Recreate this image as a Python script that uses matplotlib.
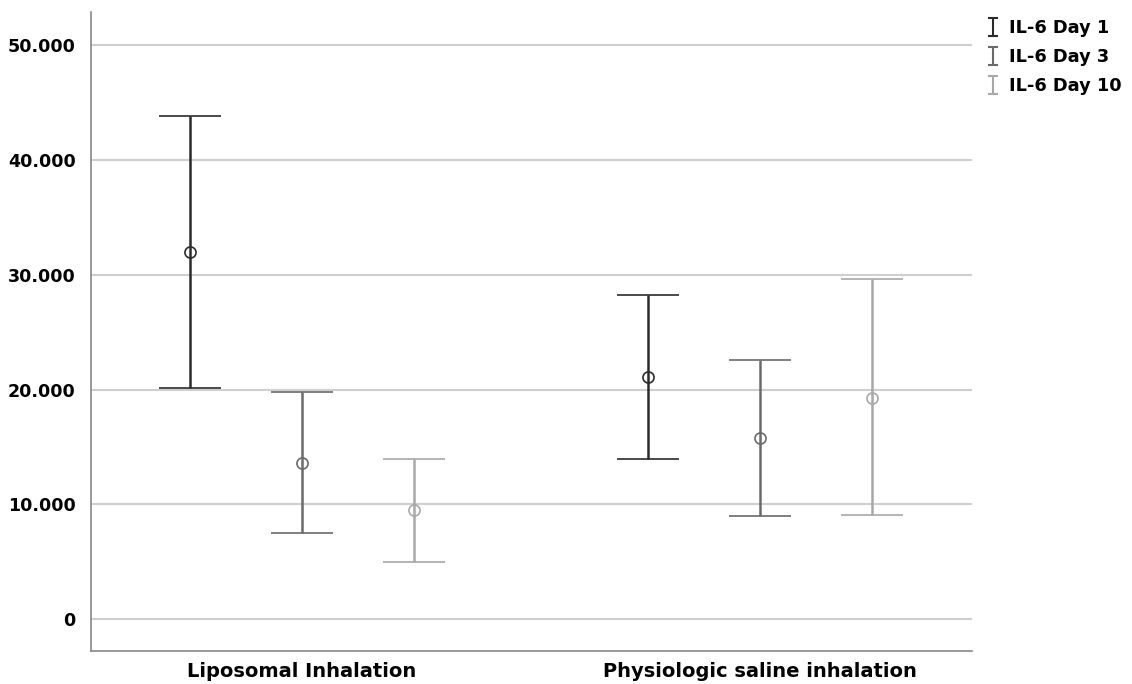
import numpy as np
import matplotlib.pyplot as plt
from matplotlib.path import Path
from matplotlib.lines import Line2D
from matplotlib.ticker import FuncFormatter

# Data (IL-6, mean with error bars)
groups = ['Liposomal Inhalation', 'Physiologic saline inhalation']
series = ['IL-6 Day 1', 'IL-6 Day 3', 'IL-6 Day 10']
colors = ['#2b2b2b', '#6a6a6a', '#a8a8a8']

mean_day1 = [31970, 21100]
low_day1 = [20100, 13900]
high_day1 = [43800, 28200]

mean_day3 = [13600, 15800]
low_day3 = [7500, 9000]
high_day3 = [19800, 22600]

mean_day10 = [9500, 19300]
low_day10 = [5000, 9100]
high_day10 = [13900, 29600]

means = [mean_day1, mean_day3, mean_day10]
lows = [low_day1, low_day3, low_day10]
highs = [high_day1, high_day3, high_day10]

fig = plt.figure(figsize=(11.32, 6.84), dpi=100)
ax = fig.add_axes([91 / 1132, 33 / 684, 881 / 1132, 639 / 684])

x = np.arange(len(groups))
offset = 0.245
for i in range(3):
    m = np.array(means[i])
    err = [m - np.array(lows[i]), np.array(highs[i]) - m]
    ax.errorbar(x + (i - 1) * offset, m, yerr=err, fmt='o', color=colors[i],
                mfc='none', mec=colors[i], ms=8, mew=1.2,
                elinewidth=1.8, capsize=22, capthick=2.3, zorder=3)

ax.set_xlim(-0.461, 1.463)
ax.set_ylim(-2790, 52900)
ax.set_yticks([0, 10000, 20000, 30000, 40000, 50000])
ax.yaxis.set_major_formatter(FuncFormatter(lambda v, p: f"{v:,.0f}".replace(',', '.')))
ax.set_xticks(x)
ax.set_xticklabels(groups)
ax.grid(axis='y', color='#cfcfcf', lw=1.5)
ax.set_axisbelow(True)
ax.tick_params(axis='y', length=0, labelsize=12.6, pad=11)
ax.tick_params(axis='x', length=0, labelsize=14, pad=8)
for lab in ax.get_xticklabels() + ax.get_yticklabels():
    lab.set_fontweight('bold')
for s in ['top', 'right']:
    ax.spines[s].set_visible(False)
for s in ['left', 'bottom']:
    ax.spines[s].set_color('#888888')
    ax.spines[s].set_linewidth(1.2)

# legend marker shaped like an error bar
ibar = Path([(-0.5, 1), (0.5, 1), (0, 1), (0, -1), (-0.5, -1), (0.5, -1)],
            [Path.MOVETO, Path.LINETO, Path.MOVETO, Path.LINETO, Path.MOVETO, Path.LINETO])
handles = [Line2D([], [], ls='none', marker=ibar, ms=13, mew=1.5, color=c, mfc='none')
           for c in colors]
fig.legend(handles, series, loc='upper left', bbox_to_anchor=(0.858, 0.995),
           frameon=False, prop={'weight': 'bold', 'size': 12.8},
           handlelength=0.7, handletextpad=0.5, labelspacing=0.62)

fig.savefig('out.png', dpi=100)
